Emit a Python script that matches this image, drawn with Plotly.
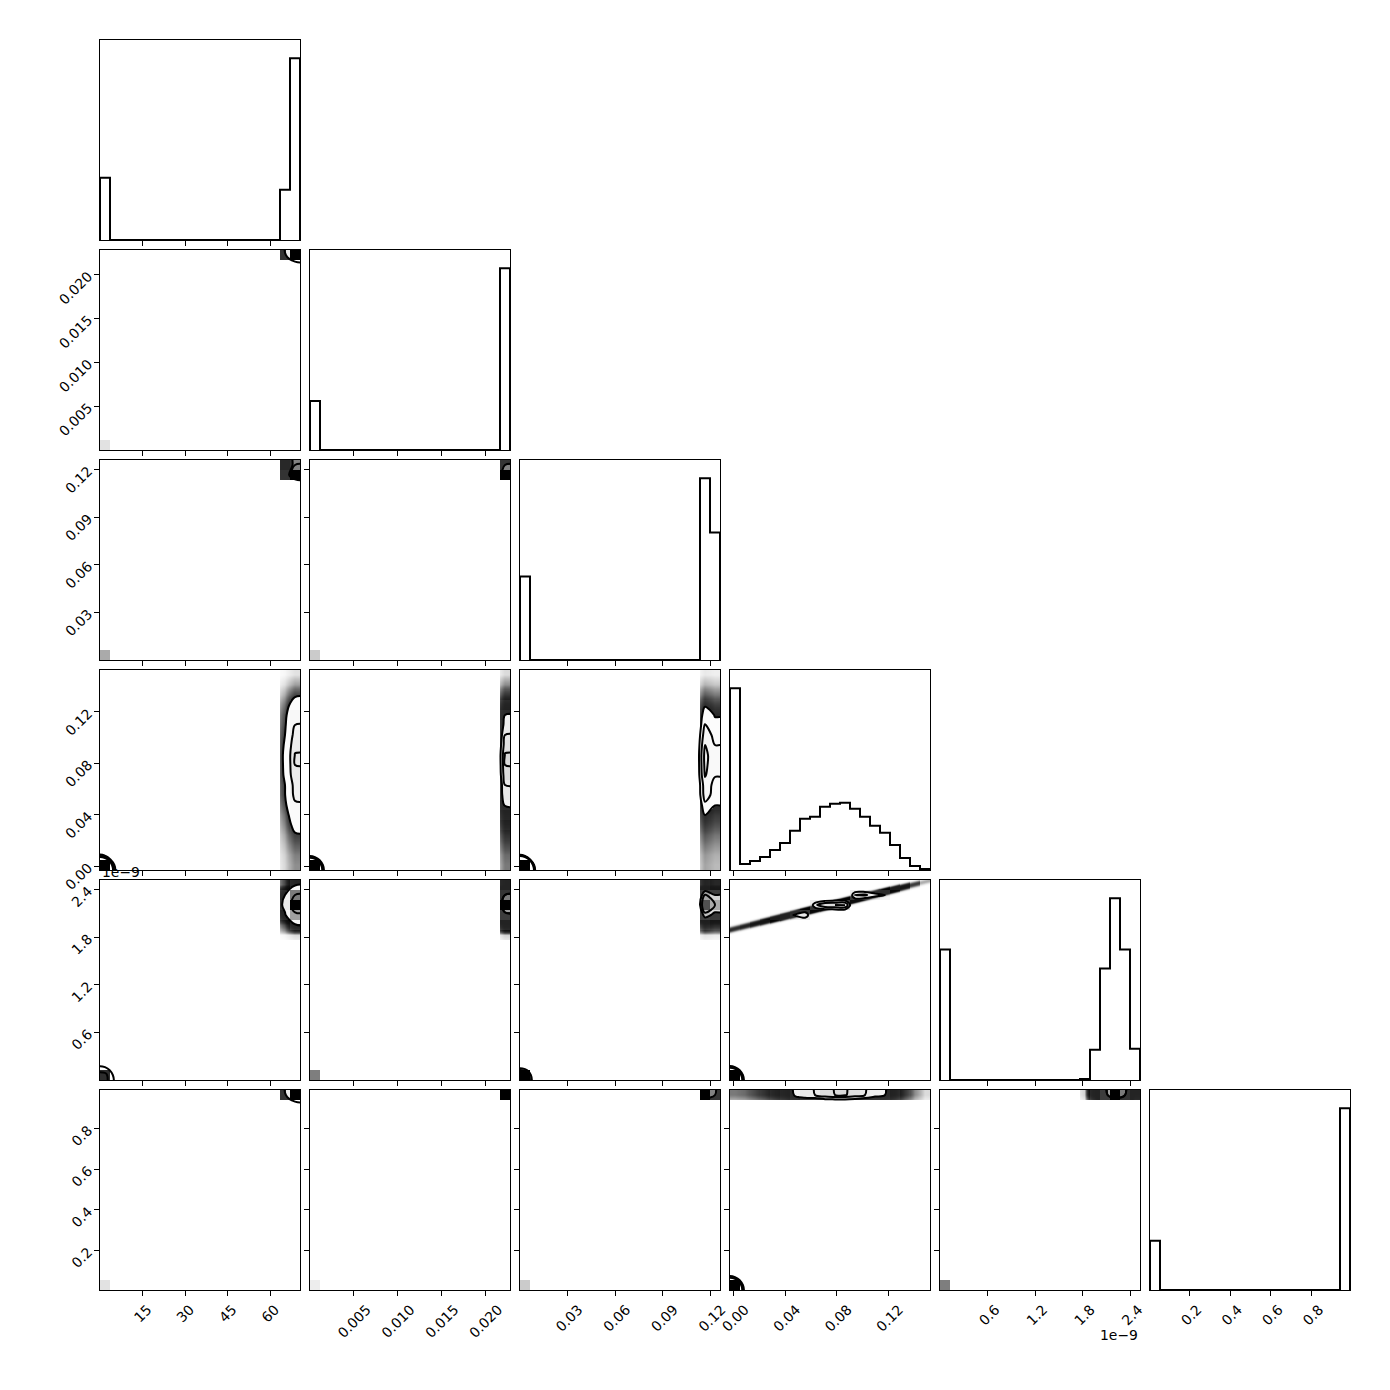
import numpy as np
import plotly.graph_objects as go

# ---------------- data ----------------
# value range of each parameter (parameter 4 is in units of 1e-9)
param_ranges = [
    [0.0, 70.5],
    [0.0, 0.0228],
    [0.0, 0.126],
    [-0.003, 0.1525],
    [0.0, 2.52],
    [0.005, 0.99],
]

# 1-D histogram counts, 20 bins per parameter (diagonal panels)
hist_p0 = [62, 0, 0, 0, 0, 0, 0, 0, 0, 0, 0, 0, 0, 0, 0, 0, 0, 0, 50, 181]
hist_p1 = [49, 0, 0, 0, 0, 0, 0, 0, 0, 0, 0, 0, 0, 0, 0, 0, 0, 0, 0, 182]
hist_p2 = [83, 0, 0, 0, 0, 0, 0, 0, 0, 0, 0, 0, 0, 0, 0, 0, 0, 0, 181, 127]
hist_p3 = [181, 6, 9, 13, 20, 27, 39, 51, 53, 63, 66, 67, 61, 53, 44, 37, 25, 12, 4, 1]
hist_p4 = [130, 0, 0, 0, 0, 0, 0, 0, 0, 0, 0, 0, 0, 0, 1, 30, 111, 181, 130, 31]
hist_p5 = [49, 0, 0, 0, 0, 0, 0, 0, 0, 0, 0, 0, 0, 0, 0, 0, 0, 0, 0, 181]
# part of the first bin of parameter 3 that belongs to the main mode
p3_bin0_main_mode = 5

# tick values and labels
ticks_p0 = [15, 30, 45, 60]
ticks_p1 = [0.005, 0.010, 0.015, 0.020]
ticks_p2 = [0.03, 0.06, 0.09, 0.12]
ticks_p3 = [0.00, 0.04, 0.08, 0.12]
ticks_p4 = [0.6, 1.2, 1.8, 2.4]
ticks_p5 = [0.2, 0.4, 0.6, 0.8]
labels_p0 = ["15", "30", "45", "60"]
labels_p1 = ["0.005", "0.010", "0.015", "0.020"]
labels_p2 = ["0.03", "0.06", "0.09", "0.12"]
labels_p3 = ["0.00", "0.04", "0.08", "0.12"]
labels_p4 = ["0.6", "1.2", "1.8", "2.4"]
labels_p5 = ["0.2", "0.4", "0.6", "0.8"]
offset_label = "1e\u22129"

# share of samples in the low (degenerate) mode, bin 0 of every parameter
low_mode_share = 0.21
# in the main mode parameter 4 follows parameter 3 along a line
p4_line_intercept = 1.902
p4_line_slope = 4.0
n_samples = 20000

# ---------------- helpers ----------------
hists = [hist_p0, hist_p1, hist_p2, hist_p3, hist_p4, hist_p5]
bin0_main = [0, 0, 0, p3_bin0_main_mode, 0, 0]
ticks = [ticks_p0, ticks_p1, ticks_p2, ticks_p3, ticks_p4, ticks_p5]
labels = [labels_p0, labels_p1, labels_p2, labels_p3, labels_p4, labels_p5]
K = 6
NB = 20
NF = 200
PAN, GAP, LEFT, TOP, W = 200, 10, 100, 40, 1390
OFF = 8  # page body offset of the figure
MARKER_AREA = 6.1


def edges(r):
    return np.linspace(r[0], r[1], NB + 1)


def centers(r):
    e = edges(r)
    return 0.5 * (e[1:] + e[:-1])


def parts(p):
    c = np.asarray(hists[p], float)
    low = np.zeros(NB)
    low[0] = 1.0
    high = c.copy()
    high[0] = bin0_main[p]
    high /= high.sum()
    return low, high


def joint(jx, iy):
    lx, hx = parts(jx)
    ly, hy = parts(iy)
    if (jx, iy) == (3, 4):
        hj = np.zeros((NB, NB))
        e3 = edges(param_ranges[3])
        e4 = edges(param_ranges[4])
        w4 = e4[1] - e4[0]
        nsub = 20
        for k in range(NB):
            if hx[k] == 0:
                continue
            sub = e3[k] + (np.arange(nsub) + 0.5) / nsub * (e3[k + 1] - e3[k])
            v = p4_line_intercept + p4_line_slope * sub
            b = np.clip(np.floor((v - e4[0]) / w4).astype(int), 0, NB - 1)
            for bb in b:
                hj[k, bb] += hx[k] / nsub
    else:
        hj = np.outer(hx, hy)
    Hhigh = (1 - low_mode_share) * hj
    return low_mode_share * np.outer(lx, ly) + Hhigh, Hhigh


def corner_levels(H):
    lv = 1.0 - np.exp(-0.5 * np.arange(0.5, 2.1, 0.5) ** 2)
    Hflat = np.sort(H.flatten())[::-1]
    sm = np.cumsum(Hflat)
    sm /= sm[-1]
    V = np.empty(len(lv))
    for i, v0 in enumerate(lv):
        sel = Hflat[sm <= v0]
        V[i] = sel[-1] if len(sel) else Hflat[0]
    V.sort()
    m = np.diff(V) == 0
    while np.any(m):
        V[np.where(m)[0][0]] *= 1.0 - 1e-4
        m = np.diff(V) == 0
    V.sort()
    return V


def pad(H, rx, ry):
    X1, Y1 = centers(rx), centers(ry)
    H2 = H.min() + np.zeros((NB + 4, NB + 4))
    H2[2:-2, 2:-2] = H
    H2[2:-2, 1] = H[:, 0]
    H2[2:-2, -2] = H[:, -1]
    H2[1, 2:-2] = H[0]
    H2[-2, 2:-2] = H[-1]
    H2[1, 1] = H[0, 0]
    H2[1, -2] = H[0, -1]
    H2[-2, 1] = H[-1, 0]
    H2[-2, -2] = H[-1, -1]
    dx, dy = X1[1] - X1[0], Y1[1] - Y1[0]
    X2 = np.concatenate([X1[0] + np.array([-2, -1]) * dx, X1, X1[-1] + np.array([1, 2]) * dx])
    Y2 = np.concatenate([Y1[0] + np.array([-2, -1]) * dy, Y1, Y1[-1] + np.array([1, 2]) * dy])
    return X2, Y2, H2


def bilinear(X2, Y2, G, xf, yf):
    fx = (xf - X2[0]) / (X2[1] - X2[0])
    fy = (yf - Y2[0]) / (Y2[1] - Y2[0])
    ix = np.clip(np.floor(fx).astype(int), 0, len(X2) - 2)
    iy = np.clip(np.floor(fy).astype(int), 0, len(Y2) - 2)
    tx = np.clip(fx - ix, 0, 1)[:, None]
    ty = np.clip(fy - iy, 0, 1)[None, :]
    g00 = G[np.ix_(ix, iy)]
    g10 = G[np.ix_(ix + 1, iy)]
    g01 = G[np.ix_(ix, iy + 1)]
    g11 = G[np.ix_(ix + 1, iy + 1)]
    return g00 * (1 - tx) * (1 - ty) + g10 * tx * (1 - ty) + g01 * (1 - tx) * ty + g11 * tx * ty


def dom_x(j):
    a = LEFT + j * (PAN + GAP) - OFF
    return [a / W, (a + PAN) / W]


def dom_y(i):
    t = TOP + i * (PAN + GAP) - OFF
    return [1 - (t + PAN) / W, 1 - t / W]


def label_shift(lbls):
    return round(0.33 * max(len(s) for s in lbls) * 8)


tickfont = dict(family="DejaVu Sans", size=13.9, color="black")
common = dict(showline=True, linecolor="black", linewidth=1, mirror=True,
              showgrid=False, zeroline=False, ticks="outside", ticklen=5,
              tickwidth=1, tickcolor="black", tickfont=tickfont, tickangle=-45,
              fixedrange=True, automargin=False)

fig = go.Figure()
layout = dict(template="none", width=1390, height=1390, autosize=False,
              margin=dict(l=0, r=0, t=0, b=0, pad=0),
              paper_bgcolor="white", plot_bgcolor="white", showlegend=False)

n = 0
for i in range(K):
    for j in range(i + 1):
        n += 1
        sfx = "" if n == 1 else str(n)
        xref, yref = "x" + sfx, "y" + sfx
        xaxis = dict(common, domain=dom_x(j), anchor=yref, range=param_ranges[j],
                     tickvals=ticks[j], ticktext=labels[j],
                     showticklabels=(i == K - 1),
                     ticklabelshift=label_shift(labels[j]))
        if i == j:
            c = np.asarray(hists[i], float)
            e = edges(param_ranges[i])
            xs = np.concatenate([[e[0]], e[:-1], [e[-1], e[-1]]])
            ys = np.concatenate([[0.0], c, [c[-1], 0.0]])
            fig.add_trace(go.Scatter(x=xs, y=ys, mode="lines", line_shape="hv",
                                     line=dict(color="black", width=2),
                                     hoverinfo="skip", xaxis=xref, yaxis=yref))
            yaxis = dict(common, domain=dom_y(i), anchor=xref,
                         range=[0, 1.1 * c.max()], ticks="", showticklabels=False)
        else:
            rx, ry = param_ranges[j], param_ranges[i]
            H, Hh = joint(j, i)
            V = corner_levels(H)
            X2, Y2, H2 = pad(H, rx, ry)
            _, _, Hh2 = pad(Hh, rx, ry)
            xf = rx[0] + (np.arange(NF) + 0.5) / NF * (rx[1] - rx[0])
            yf = ry[0] + (np.arange(NF) + 0.5) / NF * (ry[1] - ry[0])
            bx = np.clip(np.floor((xf - rx[0]) / (rx[1] - rx[0]) * NB).astype(int), 0, NB - 1)
            by = np.clip(np.floor((yf - ry[0]) / (ry[1] - ry[0]) * NB).astype(int), 0, NB - 1)
            Hb = H[np.ix_(bx, by)]
            Hhb = Hh[np.ix_(bx, by)]
            Hi = bilinear(X2, Y2, H2, xf, yf)
            binpx = PAN / NB
            if (j, i) == (3, 4):
                _, hx = parts(3)
                dens_x = n_samples * (1 - low_mode_share) * hx[bx] / binpx
                line_px = (p4_line_intercept + p4_line_slope * xf - ry[0]) / (ry[1] - ry[0]) * NF
                ypx = np.arange(NF) + 0.5
                dy = ypx[None, :] - line_px[:, None]
                sd = 1.6
                dens = dens_x[:, None] * np.exp(-0.5 * (dy / sd) ** 2) / (sd * np.sqrt(2 * np.pi))
            else:
                Hhi = bilinear(X2, Y2, Hh2, xf, yf)
                dens = n_samples * np.clip(Hhi, 0, None) / (binpx * binpx)
                dens[Hhb <= 0] = 0.0
            alpha = 1.0 - 0.9 ** (dens * MARKER_AREA)
            B = 1.0 - alpha
            B[Hi > V.min() * (1 + 1e-6)] = 1.0
            t = Hb / H.max()
            out = t * (1 - t) + (1 - t) * B
            zt = out.T
            z = [[None if v > 0.995 else round(float(v), 3) for v in row] for row in zt]
            fig.add_trace(go.Heatmap(x=xf, y=yf, z=z, zmin=0, zmax=1,
                                     colorscale=[[0, "rgb(0,0,0)"], [1, "rgb(255,255,255)"]],
                                     showscale=False, hoverinfo="skip", zsmooth=False,
                                     xaxis=xref, yaxis=yref))
            for v in V:
                lvl = float(v) * (1 + 1e-6)
                fig.add_trace(go.Contour(x=X2, y=Y2, z=H2.T, autocontour=False,
                                         contours=dict(start=lvl, end=lvl, size=1.0,
                                                       coloring="none"),
                                         line=dict(color="black", width=2),
                                         showscale=False, hoverinfo="skip",
                                         xaxis=xref, yaxis=yref))
            yaxis = dict(common, domain=dom_y(i), anchor=xref, range=ry,
                         tickvals=ticks[i], ticktext=labels[i],
                         showticklabels=(j == 0), ticklabelstandoff=3)
        layout["xaxis" + sfx] = xaxis
        layout["yaxis" + sfx] = yaxis

layout["annotations"] = [
    dict(text=offset_label, xref="paper", yref="paper", x=(100 - OFF) / W,
         y=1 - (872 - OFF) / W, xanchor="left", yanchor="middle",
         showarrow=False, font=tickfont),
    dict(text=offset_label, xref="paper", yref="paper", x=(1140 - OFF) / W,
         y=1 - (1335 - OFF) / W, xanchor="right", yanchor="middle",
         showarrow=False, font=tickfont),
]
fig.update_layout(**layout)
fig.write_html("out.html")
